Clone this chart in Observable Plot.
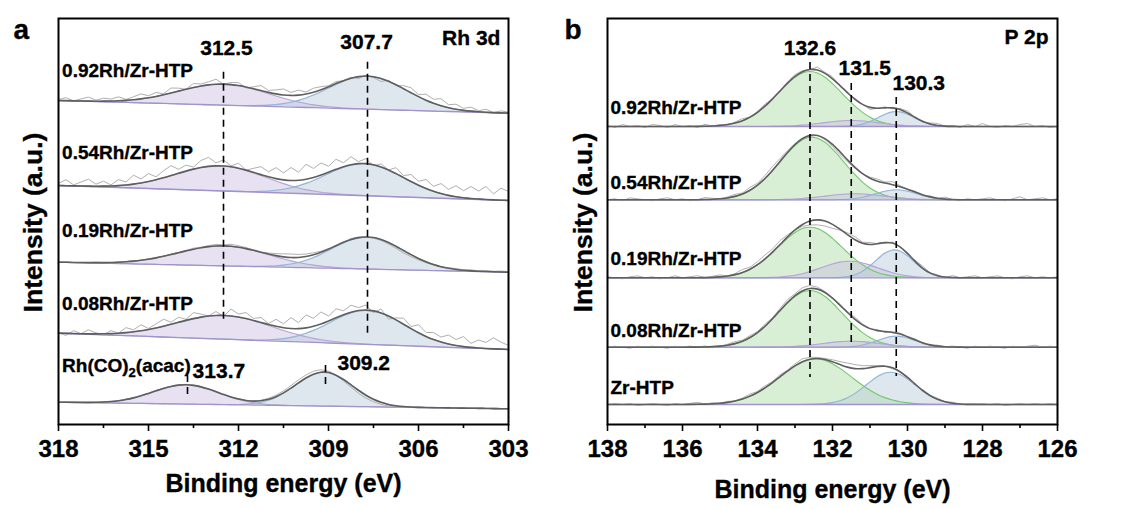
<!DOCTYPE html>
<html><head><meta charset="utf-8">
<script src="https://cdn.jsdelivr.net/npm/d3@7"></script>
<script src="https://cdn.jsdelivr.net/npm/@observablehq/plot@0.6"></script>
<style>
html,body{margin:0;padding:0;background:#fff;}
#fig{position:relative;width:1121px;height:509px;overflow:hidden;}
#pa{position:absolute;left:0;top:0;}
#pb{position:absolute;left:560px;top:0;}
#fig svg text{font-family:"Liberation Sans", Arial, Helvetica, sans-serif; font-weight:bold; stroke:#000; stroke-width:0.35px;}
</style></head>
<body><div id="fig"><div id="pa"></div><div id="pb"></div></div>
<script>
// ---------------- DATA ----------------
// Panel a: Rh 3d, binding energy grid (eV)
const energyA = [
  318, 317.75, 317.5, 317.25, 317, 316.75, 316.5, 316.25, 316, 315.75,
  315.5, 315.25, 315, 314.75, 314.5, 314.25, 314, 313.75, 313.5, 313.25,
  313, 312.75, 312.5, 312.25, 312, 311.75, 311.5, 311.25, 311, 310.75,
  310.5, 310.25, 310, 309.75, 309.5, 309.25, 309, 308.75, 308.5, 308.25,
  308, 307.75, 307.5, 307.25, 307, 306.75, 306.5, 306.25, 306, 305.75,
  305.5, 305.25, 305, 304.75, 304.5, 304.25, 304, 303.75, 303.5, 303.25,
  303];
const samplesA = ["0.92Rh/Zr-HTP", "0.54Rh/Zr-HTP", "0.19Rh/Zr-HTP", "0.08Rh/Zr-HTP", "Rh(CO)2(acac)"];
// linear background (intensity at 318 eV and at 303 eV, stacked a.u.)
const backgroundA = [[3240, 3113], [2390, 2240], [1623, 1523], [913, 750], [223, 157]];
// fitted components: [centre eV, height a.u., sigma eV]
const rh3d32 = [[312.5, 210, 1.5], [312.6, 250, 1.5], [312.5, 200, 1.5], [312.5, 237, 1.6], [313.75, 193, 1.1]];
const rh3d52 = [[307.7, 330, 1.3], [307.8, 320, 1.3], [307.7, 320, 1.2], [307.7, 340, 1.25], [309.15, 340, 0.95]];
// measured trace minus fit envelope (a.u.)
const rawDevA = [
  [10, 30, 0, 20, 40, 10, 30, 20, 40, 10,
   30, 50, 20, 40, 10, 50, 30, 0, 40, 20,
   30, 50, 0, 20, 30, -10, 20, 50, 20, 40,
   60, 30, 50, 20, 40, 30, 10, 20, 0, 10,
   -20, 10, -10, -30, 10, -10, 30, 50, 20, 60,
   40, 70, 30, 50, 20, 40, 10, 30, 0, 20,
   10],
  [20, 60, 10, 40, 70, 20, 50, 10, 60, 30,
   90, 40, 80, 30, 70, 100, 40, 60, 20, 70,
   90, 30, 60, 10, 50, 0, 40, 80, 50, 110,
   70, 130, 80, 150, 90, 120, 60, 100, 40, 80,
   20, 50, -10, 30, 0, 60, 20, 70, 40, 90,
   50, 100, 60, 110, 70, 120, 80, 130, 60, 120,
   90],
  [0, 5, 0, -5, 0, 5, 0, 0, 5, 0,
   -5, 0, 5, 0, 0, 5, 0, 5, 10, 5,
   10, 15, 10, 20, 15, 10, 5, 0, 10, 20,
   30, 35, 30, 25, 20, 10, 5, 0, 5, 10,
   5, 0, -5, -10, -15, -20, -25, -20, -15, -10,
   -5, 0, 5, 10, 5, 10, 5, 10, 5, 10,
   5],
  [0, -20, 30, 0, 40, 10, -10, 30, 0, 50,
   20, 60, 10, 40, 70, 20, 50, 10, 60, 30,
   0, 40, -10, 70, 30, 60, 20, 50, 10, 70,
   40, 110, 60, 130, 80, 120, 50, 90, 40, 70,
   30, 50, -20, 40, -30, 20, 60, 20, 80, 40,
   70, 50, 90, 60, 100, 40, 80, 60, 110, 70,
   40],
  [0, 5, 0, 0, -5, 0, 5, 0, 0, 5,
   0, 0, -5, 0, 5, 0, 0, 5, 0, -5,
   0, 5, 0, 0, 5, 0, 0, 5, 10, 15,
   20, 25, 30, 30, 30, 25, 15, 0, -15, -25,
   -30, -30, -25, -20, -15, -10, -5, 0, 5, 0,
   5, 0, 5, 0, 5, 0, 5, 0, 5, 0,
   5]
];
const peakMarksA = [312.5, 307.7];
const peakMarksAcac = [313.7, 309.1];
const peakTextA = ["312.5", "307.7"];
const peakTextAcac = ["313.7", "309.2"];
const ticksA = [318, 315, 312, 309, 306, 303];
const minorTicksA = [316.5, 313.5, 310.5, 307.5, 304.5];

// Panel b: P 2p
const energyB = [
  138, 137.8, 137.6, 137.4, 137.2, 137, 136.8, 136.6, 136.4, 136.2,
  136, 135.8, 135.6, 135.4, 135.2, 135, 134.8, 134.6, 134.4, 134.2,
  134, 133.8, 133.6, 133.4, 133.2, 133, 132.8, 132.6, 132.4, 132.2,
  132, 131.8, 131.6, 131.4, 131.2, 131, 130.8, 130.6, 130.4, 130.2,
  130, 129.8, 129.6, 129.4, 129.2, 129, 128.8, 128.6, 128.4, 128.2,
  128, 127.8, 127.6, 127.4, 127.2, 127, 126.8, 126.6, 126.4, 126.2,
  126];
const samplesB = ["0.92Rh/Zr-HTP", "0.54Rh/Zr-HTP", "0.19Rh/Zr-HTP", "0.08Rh/Zr-HTP", "Zr-HTP"];
const backgroundB = [2980, 2247, 1467, 773, 200];
const p2pGreen = [[132.6, 550, 0.85], [132.55, 626, 0.85], [132.6, 506, 0.85], [132.6, 567, 0.85], [132.45, 457, 0.95]];
const p2pPurple = [[131.5, 60, 0.75], [131.4, 60, 0.8], [131.55, 166, 0.75], [131.5, 60, 0.75], null];
const p2pBlue = [[130.3, 150, 0.47], [130.3, 100, 0.55], [130.35, 280, 0.5], [130.3, 110, 0.5], [130.45, 323, 0.65]];
const rawDevB = [
  [10, -10, 20, 0, 10, -10, 20, 10, -10, 20,
   0, 10, -10, 20, 0, 10, -10, 10, 20, 0,
   10, 20, 0, -10, 10, 20, 10, 0, 30, 10,
   20, 0, -10, 10, 0, -20, 0, 10, -10, 10,
   20, 0, -10, 10, 20, 0, 10, -10, 20, 0,
   30, 0, -10, 10, 0, 20, 30, 0, 10, -10,
   0],
  [0, 10, -10, 20, 10, 0, -10, 10, 20, 0,
   10, -10, 0, 20, 10, 0, 10, 20, 10, 30,
   20, 30, 40, 30, 20, 10, 0, -10, 0, -10,
   -20, -30, -20, -10, 0, 10, 20, 10, 30, 10,
   0, 10, -10, 10, 0, 20, 0, -10, 10, 0,
   10, 20, 0, -10, 10, 30, 0, 10, 20, 0,
   10],
  [10, 0, -10, 10, 20, 0, 10, -10, 0, 20,
   0, 10, 20, 0, 10, 20, 0, 10, 30, 20,
   30, 40, 30, 40, 20, 0, -20, -40, -50, -50,
   -40, -10, 20, 30, 10, 20, 0, -10, 10, 0,
   -10, 10, 20, 0, 10, -10, 20, 0, 10, 20,
   0, 10, 20, 0, -10, 10, 20, 0, 10, 0,
   10],
  [0, 10, 0, -10, 10, 0, 10, 0, -10, 10,
   0, 10, 0, 10, -10, 0, 10, 20, 10, 20,
   10, 20, 10, 20, 30, 20, 30, 30, 20, 10,
   0, -10, 10, 20, 10, 0, 10, -10, 0, 10,
   0, 10, -10, 0, 10, 0, 10, 0, -10, 10,
   0, 10, 0, -10, 10, 0, 10, 20, 0, 10,
   0],
  [0, 10, 0, 10, -10, 0, 10, 0, -10, 10,
   0, 10, 20, 0, 10, 0, 10, 0, 10, 20,
   10, 20, 10, 20, 10, 20, 30, 20, 10, 10,
   20, 30, 40, 40, 30, 20, 10, 0, -10, 0,
   10, 0, -10, 0, 10, 0, 10, 0, -10, 0,
   10, 0, 10, -10, 0, 10, 0, 10, 0, 10,
   0]
];
const peakMarksB = [132.6, 131.5, 130.3];
const peakTextB = ["132.6", "131.5", "130.3"];
const ticksB = [138, 136, 134, 132, 130, 128, 126];
const minorTicksB = [137, 135, 133, 131, 129, 127];

// ---------------- DRAWING ----------------
const FONT = '"Liberation Sans", Arial, Helvetica, sans-serif';
const COL = {
  purple: {fill: "#c9bddf", stroke: "#b6a4d9"},
  blue: {fill: "#b8cad9", stroke: "#93b5d8"},
  green: {fill: "#a8dca3", stroke: "#74c86c"}
};
const gauss = (x, p) => p ? p[1] * Math.exp(-0.5 * ((x - p[0]) / p[2]) ** 2) : 0;

function spectrumMarks(energy, baseAt, comps, dev) {
  const marks = [];
  const env = energy.map(E => ({E, y: baseAt(E) + comps.reduce((s, c) => s + gauss(E, c.peak), 0)}));
  const raw = energy.map((E, i) => ({E, y: env[i].y + dev[i]}));
  const compRows = comps.filter(c => c.peak).map(c => ({c, rows: energy.map(E => ({E, y1: baseAt(E), y2: baseAt(E) + gauss(E, c.peak)}))}));
  for (const {c, rows} of compRows)
    marks.push(Plot.areaY(rows, {x: "E", y1: "y1", y2: "y2", fill: COL[c.color].fill, fillOpacity: 0.45, curve: "catmull-rom"}));
  for (const {c, rows} of compRows)
    marks.push(Plot.lineY(rows, {x: "E", y: "y2", stroke: COL[c.color].stroke, strokeWidth: 1.1, curve: "catmull-rom"}));
  marks.push(Plot.lineY(energy.map(E => ({E, y: baseAt(E)})), {x: "E", y: "y", stroke: "#a294cb", strokeWidth: 1.3}));
  marks.push(Plot.lineY(raw, {x: "E", y: "y", stroke: "#b0b0b0", strokeWidth: 1}));
  marks.push(Plot.lineY(env, {x: "E", y: "y", stroke: "#5e5e5e", strokeWidth: 1.6, curve: "catmull-rom"}));
  return marks;
}

const common = {
  height: 509, marginTop: 18, marginBottom: 85,
  y: {domain: [0, 4060], axis: null},
  style: {fontFamily: FONT, fontWeight: "bold", fontSize: "24px", color: "black", background: "white", overflow: "visible"}
};
const txt = (x, y, t, o = {}) => Plot.text([0], {x: () => x, y: () => y, text: () => t, fontSize: 21, fontWeight: "bold", fill: "black", lineAnchor: "middle", ...o});
const yTitle = dx => Plot.text(["Intensity (a.u.)"], {frameAnchor: "top-left", dx, dy: 204, rotate: -90, textAnchor: "middle", fontSize: 26.5, fontWeight: "bold", fill: "black", lineAnchor: "middle"});
const xTitle = dy => Plot.text(["Binding energy (eV)"], {frameAnchor: "bottom", dy, textAnchor: "middle", fontSize: 25, fontWeight: "bold", fill: "black", lineAnchor: "middle"});

// ----- panel a -----
const marksA = [];
samplesA.forEach((s, k) => {
  const [bl, br] = backgroundA[k];
  const baseAt = E => bl + (br - bl) * (318 - E) / (318 - 303);
  marksA.push(...spectrumMarks(energyA, baseAt, [{peak: rh3d32[k], color: "purple"}, {peak: rh3d52[k], color: "blue"}], rawDevA[k]));
});
marksA.push(
  Plot.ruleX(peakMarksA, {x: d => d, y1: [3523, 3623], y2: [1023, 867], stroke: "black", strokeWidth: 1.6, strokeDasharray: "7,5"}),
  Plot.ruleX(peakMarksAcac, {x: d => d, y1: [490, 590], y2: [300, 380], stroke: "black", strokeWidth: 1.6, strokeDasharray: "7,5"}),
  txt(312.4, 3760, peakTextA[0]),
  txt(307.73, 3820, peakTextA[1]),
  txt(303.27, 3860, "Rh 3d", {textAnchor: "end"}),
  txt(313.53, 530, peakTextAcac[0], {textAnchor: "start"}),
  txt(308.7, 610, peakTextAcac[1], {textAnchor: "start"}),
  ...samplesA.map((s, k) => txt(317.88, [3540, 2720, 1940, 1210, 590][k], s, {textAnchor: "start", fontSize: 19})),
  Plot.axisX({ticks: ticksA, tickSize: 7, tickPadding: 8, strokeWidth: 1.6, tickFormat: d => String(d), fontSize: 24, fontWeight: "bold", label: null}),
  Plot.axisX({ticks: minorTicksA, tickSize: 4, strokeWidth: 1.6, tickFormat: () => "", label: null}),
  xTitle(59),
  yTitle(-25),
  Plot.text(["a"], {frameAnchor: "top-left", dx: -45, dy: 12, textAnchor: "start", fontSize: 28, fontWeight: "bold", fill: "black", lineAnchor: "middle"}),
  Plot.frame({stroke: "black", strokeWidth: 2})
);
const plotA = Plot.plot({...common, width: 560, marginLeft: 58, marginRight: 52,
  x: {domain: [318, 303]}, marks: marksA});
document.getElementById("pa").append(plotA);

// ----- panel b -----
const marksB = [];
samplesB.forEach((s, k) => {
  const b = backgroundB[k];
  marksB.push(...spectrumMarks(energyB, () => b, [
    {peak: p2pGreen[k], color: "green"}, {peak: p2pPurple[k], color: "purple"}, {peak: p2pBlue[k], color: "blue"}], rawDevB[k]));
});
marksB.push(
  Plot.ruleX(peakMarksB, {x: d => d, y1: [3620, 3410, 3270], y2: [470, 800, 480], stroke: "black", strokeWidth: 1.6, strokeDasharray: "7,5"}),
  txt(132.6, 3763, peakTextB[0]),
  txt(131.84, 3560, peakTextB[1], {textAnchor: "start"}),
  txt(130.4, 3410, peakTextB[2], {textAnchor: "start"}),
  txt(126.24, 3870, "P 2p", {textAnchor: "end"}),
  ...samplesB.map((s, k) => txt(137.92, [3170, 2420, 1660, 940, 370][k], s, {textAnchor: "start", fontSize: 19})),
  Plot.axisX({ticks: ticksB, tickSize: 7, tickPadding: 8, strokeWidth: 1.6, tickFormat: d => String(d), fontSize: 24, fontWeight: "bold", label: null}),
  Plot.axisX({ticks: minorTicksB, tickSize: 4, strokeWidth: 1.6, tickFormat: () => "", label: null}),
  xTitle(65),
  yTitle(-24),
  Plot.text(["b"], {frameAnchor: "top-left", dx: -43, dy: 12, textAnchor: "start", fontSize: 28, fontWeight: "bold", fill: "black", lineAnchor: "middle"}),
  Plot.frame({stroke: "black", strokeWidth: 2})
);
const plotB = Plot.plot({...common, width: 561, marginLeft: 47, marginRight: 64,
  x: {domain: [138, 126]}, marks: marksB});
document.getElementById("pb").append(plotB);

// subscript in Rh(CO)2(acac)
d3.select(plotA).selectAll("text").filter(function () { return this.textContent === "Rh(CO)2(acac)"; })
  .each(function () {
    const t = d3.select(this);
    t.text("");
    t.append("tspan").text("Rh(CO)");
    t.append("tspan").attr("dy", 5).attr("font-size", 13).text("2");
    t.append("tspan").attr("dy", -5).text("(acac)");
  });
</script>
</body></html>
